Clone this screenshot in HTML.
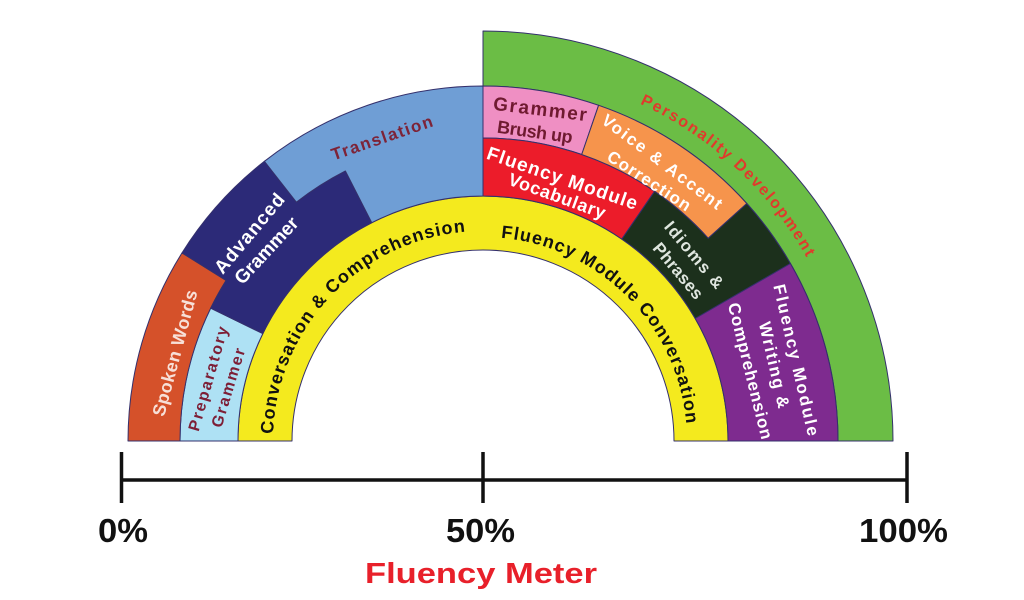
<!DOCTYPE html>
<html>
<head>
<meta charset="utf-8">
<style>
html,body{margin:0;padding:0;background:#fff;}
svg{display:block;}
text{font-family:"Liberation Sans",sans-serif;font-weight:bold;}
</style>
</head>
<body>
<svg width="1024" height="600" viewBox="0 0 1024 600" xmlns="http://www.w3.org/2000/svg">
<rect width="1024" height="600" fill="#fff"/>
<defs>
  <path id="arcL" d="M 273 441 A 210 210 0 0 1 483 231"/>
  <path id="arcR" d="M 483 237 A 204 204 0 0 1 687 441"/>
  <path id="arcP" d="M 483 69 A 372 372 0 0 1 855 441"/>
</defs>
<g stroke="#34306c" stroke-width="1" stroke-linejoin="round">
  <path d="M 483 31 A 410 410 0 0 1 893 441 L 838 441 A 355 355 0 0 0 483 86 Z" fill="#6bbd45"/>
  <path d="M 292 441 A 191 191 0 0 1 674 441 L 728 441 A 245 245 0 0 0 238 441 Z" fill="#f4ea1e"/>
  <path d="M 238 441 A 245 245 0 0 1 262.8 333.6 L 210.7 308.2 A 303 303 0 0 0 180 441 Z" fill="#aee1f4"/>
  <path d="M 180 441 A 303 303 0 0 1 226.1 280.4 L 182 252.9 A 355 355 0 0 0 128 441 Z" fill="#d5512a"/>
  <path d="M 262.8 333.6 A 245 245 0 0 1 371.8 222.7 L 345.4 171.0 A 303 303 0 0 0 296.4 202.2 L 264.4 161.3 A 355 355 0 0 0 182 252.9 L 226.1 280.4 A 303 303 0 0 0 210.7 308.2 Z" fill="#2c2a78"/>
  <path d="M 371.8 222.7 A 245 245 0 0 1 483 196 L 483 86 A 355 355 0 0 0 264.4 161.3 L 296.4 202.2 A 303 303 0 0 1 345.4 171.0 Z" fill="#6f9ed5"/>
  <path d="M 483 86 A 355 355 0 0 1 598.6 105.3 L 581.7 154.5 A 303 303 0 0 0 483 138 Z" fill="#ef8fc3"/>
  <path d="M 483 138 A 303 303 0 0 1 654.6 191.3 L 621.8 239.1 A 245 245 0 0 0 483 196 Z" fill="#ec1c2a"/>
  <path d="M 598.6 105.3 A 355 355 0 0 1 746.8 203.5 L 708.2 238.3 A 303 303 0 0 0 581.7 154.5 Z" fill="#f6944c"/>
  <path d="M 621.8 239.1 A 245 245 0 0 1 695.2 318.5 L 790.4 263.5 A 355 355 0 0 0 746.8 203.5 L 708.2 238.3 A 303 303 0 0 0 654.6 191.3 Z" fill="#1c301c"/>
  <path d="M 695.2 318.5 A 245 245 0 0 1 728 441 L 838 441 A 355 355 0 0 0 790.4 263.5 Z" fill="#7e2b8f"/>
</g>

<text font-size="18" fill="#111"><textPath href="#arcL" startOffset="7" textLength="305" lengthAdjust="spacing">Conversation &amp; Comprehension</textPath></text>
<text font-size="18" fill="#111"><textPath href="#arcR" startOffset="18" textLength="285" lengthAdjust="spacing">Fluency Module Conversation</textPath></text>
<text font-size="16" fill="#e03a2c"><textPath href="#arcP" startOffset="162" textLength="230" lengthAdjust="spacing">Personality Development</textPath></text>

<g text-anchor="middle" dominant-baseline="central">
  <text font-size="18" fill="#f7e0d8" transform="translate(175,353) rotate(-75)" textLength="130" lengthAdjust="spacing">Spoken Words</text>
  <text font-size="16" fill="#7d1f36" transform="translate(209,379) rotate(-74)" textLength="108" lengthAdjust="spacing">Preparatory</text>
  <text font-size="16" fill="#7d1f36" transform="translate(229,388) rotate(-73)" textLength="82" lengthAdjust="spacing">Grammer</text>
  <text font-size="19" fill="#ffffff" transform="translate(250,234) rotate(-50)" textLength="98" lengthAdjust="spacing">Advanced</text>
  <text font-size="19" fill="#ffffff" transform="translate(267,251) rotate(-47)" textLength="84" lengthAdjust="spacing">Grammer</text>
  <text font-size="17" fill="#7d2337" transform="translate(382,138) rotate(-19)" textLength="106" lengthAdjust="spacing">Translation</text>
  <text font-size="19" fill="#6f1a30" transform="translate(540,110) rotate(7)" textLength="94" lengthAdjust="spacing">Grammer</text>
  <text font-size="18" fill="#6f1a30" transform="translate(535,132) rotate(8)" textLength="76" lengthAdjust="spacing">Brush up</text>
  <text font-size="19" fill="#ffffff" transform="translate(562,179) rotate(19)" textLength="158" lengthAdjust="spacing">Fluency Module</text>
  <text font-size="18" fill="#ffffff" transform="translate(557,196) rotate(20)" textLength="102" lengthAdjust="spacing">Vocabulary</text>
  <text font-size="17" fill="#ffffff" transform="translate(662,162) rotate(37)" textLength="146" lengthAdjust="spacing">Voice &amp; Accent</text>
  <text font-size="17" fill="#ffffff" transform="translate(649,181) rotate(33)" textLength="96" lengthAdjust="spacing">Correction</text>
  <text font-size="17" fill="#dfe6df" transform="translate(694,255) rotate(50)" textLength="82" lengthAdjust="spacing">Idioms &amp;</text>
  <text font-size="17" fill="#dfe6df" transform="translate(678,271) rotate(50)" textLength="68" lengthAdjust="spacing">Phrases</text>
  <text font-size="17" fill="#ffffff" transform="translate(796,360) rotate(77)" textLength="155" lengthAdjust="spacing">Fluency Module</text>
  <text font-size="17" fill="#ffffff" transform="translate(774,365) rotate(77)" textLength="88" lengthAdjust="spacing">Writing &amp;</text>
  <text font-size="17" fill="#ffffff" transform="translate(750,371) rotate(76)" textLength="140" lengthAdjust="spacing">Comprehension</text>
</g>

<g stroke="#111" stroke-width="3.5">
  <line x1="121" y1="480" x2="907" y2="480"/>
  <line x1="121.5" y1="452" x2="121.5" y2="503"/>
  <line x1="483" y1="452" x2="483" y2="503"/>
  <line x1="907" y1="452" x2="907" y2="503"/>
</g>
<text x="98" y="542" font-size="33" fill="#111" textLength="50" lengthAdjust="spacingAndGlyphs">0%</text>
<text x="446" y="542" font-size="33" fill="#111" textLength="69" lengthAdjust="spacingAndGlyphs">50%</text>
<text x="859" y="542" font-size="33" fill="#111" textLength="89" lengthAdjust="spacingAndGlyphs">100%</text>
<text x="365" y="583" font-size="29" fill="#e8202a" textLength="232" lengthAdjust="spacingAndGlyphs">Fluency Meter</text>
</svg>
</body>
</html>
